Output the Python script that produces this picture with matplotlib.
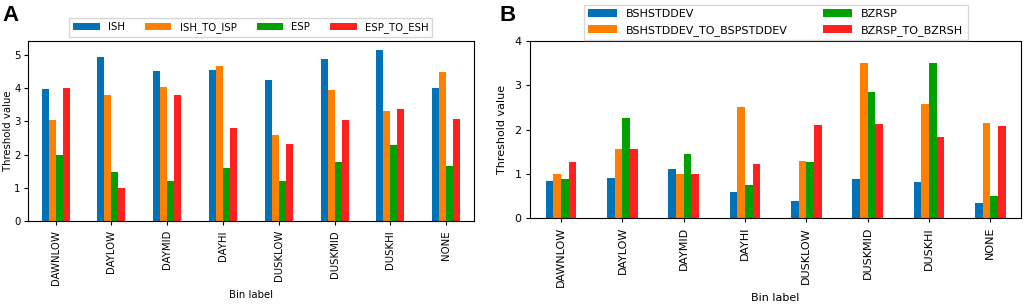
import numpy as np
import matplotlib
matplotlib.use("Agg")
from matplotlib import pyplot as plt

bins = ["DAWNLOW", "DAYLOW", "DAYMID", "DAYHI", "DUSKLOW", "DUSKMID", "DUSKHI", "NONE"]

# panel A
ish = [3.97, 4.95, 4.52, 4.56, 4.25, 4.87, 5.16, 4.00]
ish_to_isp = [3.05, 3.78, 4.02, 4.68, 2.58, 3.95, 3.30, 4.50]
esp = [2.00, 1.47, 1.20, 1.60, 1.20, 1.78, 2.30, 1.65]
esp_to_esh = [4.00, 1.00, 3.80, 2.80, 2.32, 3.05, 3.37, 3.07]

# panel B
bshstddev = [0.83, 0.90, 1.10, 0.58, 0.39, 0.88, 0.82, 0.33]
bsh_to_bsp = [1.00, 1.57, 1.00, 2.50, 1.29, 3.50, 2.57, 2.14]
bzrsp = [0.88, 2.26, 1.44, 0.75, 1.27, 2.84, 3.50, 0.50]
bzrsp_to_bzrsh = [1.27, 1.56, 1.00, 1.21, 2.11, 2.12, 1.84, 2.09]

colors = ["#0072b5", "#ff8000", "#00a000", "#ff2020"]

fig = plt.figure(figsize=(10.24, 3.04), dpi=100)


def grouped(ax, series, names, fs):
    x = np.arange(len(bins))
    w = 0.5 / len(series)
    for j, (vals, name) in enumerate(zip(series, names)):
        ax.bar(x + (j - (len(series) - 1) / 2) * w, vals, width=w,
               color=colors[j], label=name)
    ax.set_xticks(x)
    ax.set_xticklabels(bins, rotation=90)
    ax.set_xlim(-0.5, len(bins) - 0.5)
    ax.set_xlabel("Bin label", fontsize=fs)
    ax.set_ylabel("Threshold value", fontsize=fs)
    ax.tick_params(labelsize=fs, length=3)


axA = fig.add_axes([0.027, 0.273, 0.436, 0.592])
grouped(axA, [ish, ish_to_isp, esp, esp_to_esh],
        ["ISH", "ISH_TO_ISP", "ESP", "ESP_TO_ESH"], 7.3)
axA.tick_params(axis="y", pad=2)
axA.legend(ncol=4, loc="lower center", bbox_to_anchor=(0.5, 1.02),
           borderaxespad=0, fancybox=False, fontsize=7.3,
           handlelength=2.6, columnspacing=2.0)
axA.yaxis.labelpad = 1

axB = fig.add_axes([0.518, 0.283, 0.479, 0.582])
grouped(axB, [bshstddev, bsh_to_bsp, bzrsp, bzrsp_to_bzrsh],
        ["BSHSTDDEV", "BSHSTDDEV_TO_BSPSTDDEV", "BZRSP", "BZRSP_TO_BZRSH"], 8)
axB.set_ylim(0, 4)
axB.set_yticks([0, 1, 2, 3, 4])
axB.legend(ncol=2, loc="lower center", bbox_to_anchor=(0.5, 1.005),
           borderaxespad=0, fancybox=False, fontsize=8,
           handlelength=2.6, columnspacing=3.2)
axB.yaxis.labelpad = 5

fig.text(0.002, 0.985, "A", fontsize=16, fontweight="bold", va="top",
         family="Liberation Sans")
fig.text(0.488, 0.985, "B", fontsize=16, fontweight="bold", va="top",
         family="Liberation Sans")

fig.savefig("out.png", dpi=100)
